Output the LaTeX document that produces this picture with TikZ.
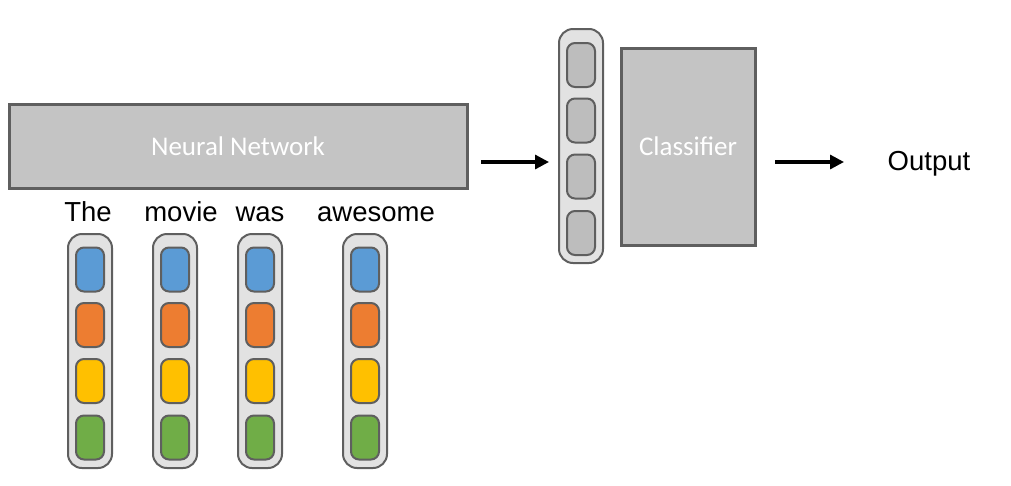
\documentclass[tikz,border=0pt]{standalone}
\usepackage{fontspec}
\setmainfont{Liberation Sans}
\newfontfamily\boxfont{Carlito}
\usetikzlibrary{arrows.meta}
\definecolor{edge}{HTML}{5F5F5F}
\definecolor{boxfill}{HTML}{C4C4C4}
\definecolor{capfill}{HTML}{E2E2E2}
\definecolor{cellgray}{HTML}{BDBDBD}
\definecolor{cblue}{HTML}{5B9BD5}
\definecolor{corange}{HTML}{ED7D31}
\definecolor{cyellow}{HTML}{FFC000}
\definecolor{cgreen}{HTML}{70AD47}
\tikzset{
  bigbox/.style={draw=edge, line width=3pt, fill=boxfill, inner sep=0pt, font=\boxfont\fontsize{27}{32}\selectfont, text=white},
  capsule/.style={draw=edge, line width=2pt, fill=capfill, rounded corners=14pt, minimum width=44pt, inner sep=0pt},
  cell/.style={draw=edge, line width=2pt, rounded corners=8pt, minimum width=28pt, minimum height=44pt, inner sep=0pt},
  word/.style={font=\fontsize{27.5}{32}\selectfont, inner sep=0pt, anchor=base},
  arr/.style={line width=3.2pt, -{Triangle[length=14pt,width=14pt]}}
}
\begin{document}
\begin{tikzpicture}[x=1pt,y=-1pt]
\useasboundingbox (0,0) rectangle (1011,485);
% Neural network box
\node[bigbox, minimum width=458pt, minimum height=84pt] (nn) at (238,146) {Neural Network};
% words
\node[word] (w1) at (88,221) {The};
\node[word] (w2) at (181,221) {movie};
\node[word] (w3) at (260,221) {was};
\node[word] (w4) at (376,221) {awesome};
% word vectors
\foreach \n/\x in {1/90,2/175,3/260,4/365}{
  \node[capsule, minimum height=234pt] (v\n) at (\x,351) {};
  \node[cell, fill=cblue] (v\n a) at (\x,269.5) {};
  \node[cell, fill=corange] (v\n b) at (\x,325) {};
  \node[cell, fill=cyellow] (v\n c) at (\x,381) {};
  \node[cell, fill=cgreen] (v\n d) at (\x,437.5) {};
}
% sentence vector
\node[capsule, minimum height=234pt] (s) at (581,146) {};
\node[cell, fill=cellgray] (sa) at (581,65) {};
\node[cell, fill=cellgray] (sb) at (581,120.5) {};
\node[cell, fill=cellgray] (sc) at (581,176.5) {};
\node[cell, fill=cellgray] (sd) at (581,233) {};
% classifier
\node[bigbox, minimum width=134pt, minimum height=197pt] (cl) at (688,146.5) {Classifier};
\node[word] (out) at (929,170) {Output};
\coordinate (a1s) at (481,162);
\coordinate (a1e) at (549,162);
\coordinate (a2s) at (775,162);
\coordinate (a2e) at (844,162);
\draw[arr] (a1s) -- (a1e);
\draw[arr] (a2s) -- (a2e);
\end{tikzpicture}
\end{document}
